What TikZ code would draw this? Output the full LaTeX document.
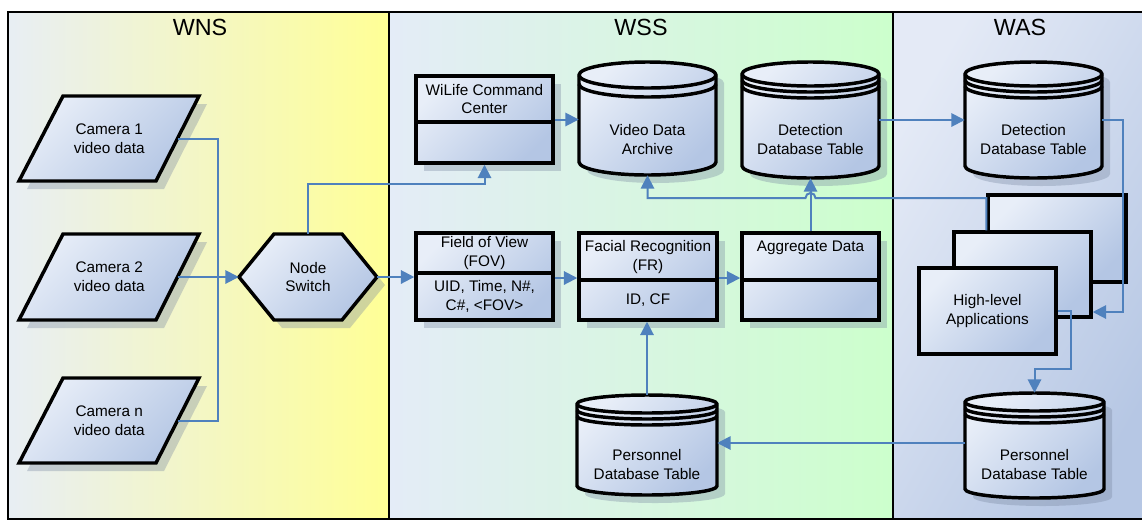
\documentclass[tikz,border=0pt]{standalone}
\usepackage{fontspec}
\setmainfont{Liberation Sans}
\usetikzlibrary{arrows.meta,shadows,calc}
\definecolor{connblue}{HTML}{4F81BD}
\definecolor{nodeL}{RGB}{232,238,248}
\definecolor{nodeR}{RGB}{180,198,228}
\definecolor{wnsL}{RGB}{232,238,244}
\definecolor{wnsR}{RGB}{255,255,150}
\definecolor{wssL}{RGB}{228,236,247}
\definecolor{wssR}{RGB}{204,255,204}
\definecolor{wasL}{RGB}{228,234,246}
\definecolor{wasR}{RGB}{182,199,228}
\definecolor{shadowc}{RGB}{120,135,160}
\tikzset{
 lane/.style={draw=black, line width=2.2pt},
 shapefill/.style={top color=nodeL, bottom color=nodeR, shading angle=45},
 outline/.style={draw=black, line width=2.6pt},
 divider/.style={draw=black, line width=2.6pt},
 shadowed/.style={drop shadow={shadow xshift=6pt, shadow yshift=-6pt, fill=shadowc, opacity=.35}},
 txt/.style={font=\fontsize{11.5}{14.2}\selectfont, align=center, inner sep=0pt},
 box/.style={shapefill, outline, shadowed, inner sep=0pt, minimum width=102.75pt, minimum height=65.25pt},
 appbox/.style={shapefill, outline, txt, minimum width=102.75pt},
 head/.style={font=\fontsize{17.5}{20}\selectfont, inner sep=0pt},
 arrowline/.style={draw=connblue, line width=1.5pt, -{Triangle[length=10pt,width=10pt]}},
 plainline/.style={draw=connblue, line width=1.5pt},
}
% #1 name, #2 left, #3 right, #4 top, #5 bottom, #6 ry, #7 ring offsets, #8 text y, #9 text
\newcommand\dbcyl[9]{%
 \pgfmathsetmacro\cx{(#2+#3)/2}%
 \pgfmathsetmacro\rx{(#3-#2)/2*0.75}%
 \pgfmathsetmacro\ry{#6*0.75}%
 \pgfmathsetmacro\wdv{(#3-#2)*0.75}%
 \pgfmathsetmacro\htv{(#5-#4)*0.75}%
 \path[shapefill, outline, shadowed] (#2,#4+#6) -- (#2,#5-#6)
   arc[start angle=180,end angle=360,x radius=\rx pt,y radius=\ry pt] -- (#3,#4+#6)
   arc[start angle=0,end angle=180,x radius=\rx pt,y radius=\ry pt] -- cycle;
 \draw[line width=2.6pt] (#2,#4+#6) arc[start angle=180,end angle=360,x radius=\rx pt,y radius=\ry pt];
 \foreach \o in {#7} {\draw[line width=2.6pt] (#2,#4+#6+\o) arc[start angle=180,end angle=360,x radius=\rx pt,y radius=\ry pt];}
 \node[inner sep=0pt, minimum width=\wdv pt, minimum height=\htv pt] (#1) at (\cx,{(#4+#5)/2}) {};
 \node[txt] (#1-t) at (\cx,#8) {#9};
}
\begin{document}
\begin{tikzpicture}[x=0.75pt,y=-0.75pt]
\useasboundingbox (0,0) rectangle (1142,522);
\clip (0,0) rectangle (1142,522);
\fill[white] (0,0) rectangle (1142,522);
% lanes
\path[lane, left color=wnsL, right color=wnsR] (8,12) rectangle (389,519);
\path[lane, left color=wssL, right color=wssR] (389,12) rectangle (893,519);
\path[lane, top color=wasL, bottom color=wasR, shading angle=60] (893,12) rectangle (1150,519);
\node[head] (hwns) at (200,27) {WNS};
\node[head] (hwss) at (641,27) {WSS};
\node[head] (hwas) at (1020,27) {WAS};
% cameras
\path[shapefill, outline, shadowed] (63,96) -- (199,96) -- (156,181) -- (19,181) -- cycle;
\node[txt, minimum width=102.4pt, minimum height=63.75pt] (cam1) at (109.25,138.5) {Camera 1\\video data};
\path[shapefill, outline, shadowed] (63,234) -- (199,234) -- (156,320) -- (19,320) -- cycle;
\node[txt, minimum width=102.4pt, minimum height=63.75pt] (cam2) at (109.25,277) {Camera 2\\video data};
\path[shapefill, outline, shadowed] (63,378) -- (199,378) -- (156,463) -- (19,463) -- cycle;
\node[txt, minimum width=102.4pt, minimum height=63.75pt] (camn) at (109.25,420.5) {Camera n\\video data};
% switch
\path[shapefill, outline, shadowed] (239,277) -- (274,234) -- (342,234) -- (377,277) -- (342,320) -- (274,320) -- cycle;
\node[txt, minimum width=103.5pt, minimum height=64.5pt] (switch) at (308,277) {Node\\Switch};
% WSS boxes
\node[box] (wilife) at (484.5,119.5) {};
\draw[divider] (wilife.west |- 0,122) -- (wilife.east |- 0,122);
\node[txt] (wilife-t) at (484.5,99) {WiLife Command\\Center};
\node[box] (fov) at (484.5,276.5) {};
\draw[divider] (fov.west |- 0,273) -- (fov.east |- 0,273);
\node[txt] (fov-t) at (484.5,253) {Field of View\\(FOV)};
\node[txt] (fov-b) at (484.5,296.5) {UID, Time, N\#,\\C\#, <FOV>};
\node[box, minimum width=103.5pt] (fr) at (648,276.5) {};
\draw[divider] (fr.west |- 0,280) -- (fr.east |- 0,280);
\node[txt] (fr-t) at (648,257) {Facial Recognition\\(FR)};
\node[txt] (fr-b) at (648,300) {ID, CF};
\node[box] (agg) at (810.5,276.5) {};
\draw[divider] (agg.west |- 0,280) -- (agg.east |- 0,280);
\node[txt] (agg-t) at (810.5,248) {Aggregate Data};
% cylinders
\dbcyl{vda}{579}{716}{62}{175}{13}{9}{139.5}{Video Data\\Archive}
\dbcyl{detw}{742}{879}{62}{178}{12}{6,12}{139.5}{Detection\\Database Table}
\dbcyl{deta}{965}{1102}{62}{178}{12}{6,12}{139.5}{Detection\\Database Table}
\dbcyl{persw}{577}{717}{395}{495}{9}{6,12}{464.5}{Personnel\\Database Table}
\dbcyl{persa}{965}{1104}{393}{498}{9}{6,12}{464.5}{Personnel\\Database Table}
% applications stack
\node[appbox, minimum width=103.5pt, minimum height=65.25pt] (apps3) at (1057,238.5) {};
\node[appbox, minimum height=63.75pt] (apps2) at (1022.5,274.5) {};
\node[appbox, minimum height=64.5pt] (apps1) at (987.5,311) {High-level\\Applications};
% connectors
\coordinate (jn) at (218,277);
\draw[plainline] (cam1.east) -| (jn);
\draw[plainline] (camn.east) -| (jn);
\draw[arrowline] (cam2.east) -- (switch.west);
\draw[arrowline] (switch.north) -- (switch.north |- 0,184) -| (wilife.south);
\draw[arrowline] (switch.east) -- (switch.east -| fov.west);
\draw[arrowline] (wilife.east) -- (wilife.east -| vda.west);
\draw[arrowline] (fov.east |- 0,278) -- (fr.west |- 0,278);
\draw[arrowline] (fr.east |- 0,278) -- (agg.west |- 0,278);
\draw[arrowline] (agg.north) -- (agg.north |- detw.south);
\draw[arrowline] (detw.east) -- (detw.east -| deta.west);
\draw[arrowline] (deta.east) -- ++(21,0) |- (apps2.east |- 0,312);
\draw[arrowline] (apps1.east) -- ++(13,0) |- (persa.north |- 0,369) -- (persa.north);
\coordinate (a2s) at ($(apps2.north west)+(34,0)$);
\draw[arrowline] (a2s) -- (a2s |- 0,198) -- ($(agg.north |- 0,198)+(5,0)$)
  arc[start angle=0,end angle=180,radius=3.75pt] -- (vda.south |- 0,198) -- (vda.south);
\draw[arrowline] (persa.west |- 0,443) -- (persw.east |- 0,443);
\draw[arrowline] (persw.north) -- (persw.north |- fr.south);
\end{tikzpicture}
\end{document}
